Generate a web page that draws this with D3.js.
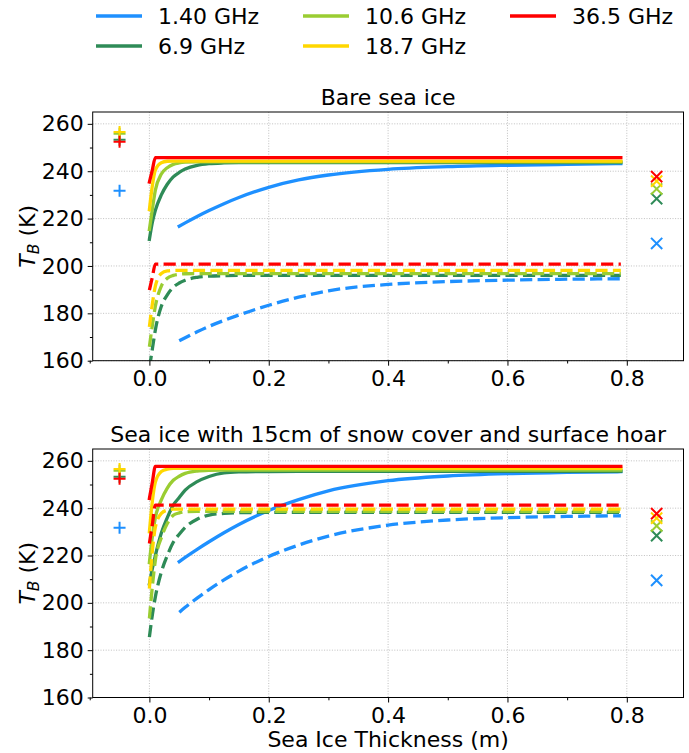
<!DOCTYPE html>
<meta charset="utf-8">
<head>
<style>
body { margin: 0; background: #fff; }
text { font-family: "DejaVu Sans", sans-serif; fill: #000; }
.grid line { stroke: #b0b0b0; stroke-width: 0.8px; stroke-dasharray: 1,1.6; }
.series path { fill: none; stroke-width: 3.3px; }
</style>
</head>
<body>
<svg></svg>
<script src="https://d3js.org/d3.v7.min.js"></script>
<script>
// frequencies, in plotting order
var freqs = ["1.40 GHz", "6.9 GHz", "10.6 GHz", "18.7 GHz", "36.5 GHz"];
var colors = ["#1e90ff", "#2e8b57", "#9acd32", "#ffd700", "#ff0000"];

// sea ice thickness (m)
var thick = [0, 0.005, 0.01, 0.02, 0.03, 0.04, 0.05, 0.06, 0.08, 0.1, 0.125, 0.15, 0.2, 0.25, 0.3, 0.4, 0.5, 0.6, 0.7, 0.79];

// bare sea ice, solid lines (K)
var bareSolid = [
  [null, null, null, null, null, null, 216.8, 218.2, 220.9, 223.4, 226.3, 228.9, 233.2, 236.3, 238.4, 240.8, 241.9, 242.5, 242.9, 243.2],
  [211.2, 218.5, 223.5, 230.0, 234.5, 237.6, 239.5, 240.9, 242.5, 243.2, 243.5, 243.6, 243.6, 243.6, 243.6, 243.6, 243.6, 243.6, 243.6, 243.6],
  [215.4, 224.0, 232.0, 238.8, 241.5, 242.9, 243.5, 243.8, 244.0, 244.0, 244.0, 244.0, 244.0, 244.0, 244.0, 244.0, 244.0, 244.0, 244.0, 244.0],
  [223.8, 234.0, 240.5, 243.6, 244.2, 244.3, 244.3, 244.3, 244.3, 244.3, 244.3, 244.3, 244.3, 244.3, 244.3, 244.3, 244.3, 244.3, 244.3, 244.3],
  [235.4, 240.6, 245.7, 245.7, 245.7, 245.7, 245.7, 245.7, 245.7, 245.7, 245.7, 245.7, 245.7, 245.7, 245.7, 245.7, 245.7, 245.7, 245.7, 245.7]
];
// bare sea ice, dashed lines (K)
var bareDashed = [
  [null, null, null, null, null, null, 168.4, 169.7, 172.2, 174.5, 177.0, 179.3, 183.4, 186.8, 189.5, 192.2, 193.4, 194.0, 194.4, 194.6],
  [157.0, 165.0, 173.0, 183.0, 187.8, 191.0, 192.8, 194.0, 195.2, 195.7, 195.9, 196.0, 196.0, 196.0, 196.0, 196.0, 196.0, 196.0, 196.0, 196.0],
  [165.9, 175.0, 183.0, 191.5, 194.8, 196.0, 196.5, 196.7, 196.8, 196.8, 196.8, 196.8, 196.8, 196.8, 196.8, 196.8, 196.8, 196.8, 196.8, 196.8],
  [174.3, 184.0, 191.5, 196.8, 197.9, 198.1, 198.1, 198.1, 198.1, 198.1, 198.1, 198.1, 198.1, 198.1, 198.1, 198.1, 198.1, 198.1, 198.1, 198.1],
  [189.8, 195.3, 200.8, 200.8, 200.8, 200.8, 200.8, 200.8, 200.8, 200.8, 200.8, 200.8, 200.8, 200.8, 200.8, 200.8, 200.8, 200.8, 200.8, 200.8]
];

// sea ice with snow and hoar, solid lines (K)
var snowSolid = [
  [null, null, null, null, null, null, 217.4, 219.2, 222.6, 225.8, 229.6, 233.1, 239.0, 243.6, 247.3, 251.6, 253.6, 254.6, 255.1, 255.4],
  [208.0, 214.5, 220.0, 229.5, 236.0, 241.3, 244.5, 247.6, 251.2, 253.4, 254.9, 255.3, 255.5, 255.6, 255.6, 255.6, 255.6, 255.6, 255.6, 255.6],
  [217.0, 228.0, 236.0, 243.5, 248.5, 251.8, 253.5, 254.7, 255.7, 256.0, 256.1, 256.1, 256.1, 256.1, 256.1, 256.1, 256.1, 256.1, 256.1, 256.1],
  [230.0, 243.0, 251.0, 255.5, 256.5, 256.8, 256.8, 256.8, 256.8, 256.8, 256.8, 256.8, 256.8, 256.8, 256.8, 256.8, 256.8, 256.8, 256.8, 256.8],
  [244.1, 251.0, 257.7, 257.7, 257.7, 257.7, 257.7, 257.7, 257.7, 257.7, 257.7, 257.7, 257.7, 257.7, 257.7, 257.7, 257.7, 257.7, 257.7, 257.7]
];
// sea ice with snow and hoar, dashed lines (K)
var snowDashed = [
  [null, null, null, null, null, null, 196.0, 198.1, 202.0, 205.6, 209.7, 213.4, 219.6, 224.4, 228.2, 232.8, 235.0, 236.0, 236.5, 236.8],
  [185.5, 195.0, 202.5, 213.0, 220.0, 225.6, 229.0, 231.9, 235.3, 237.1, 237.8, 238.1, 238.2, 238.2, 238.2, 238.2, 238.2, 238.2, 238.2, 238.2],
  [193.4, 207.0, 218.0, 227.5, 233.5, 237.0, 238.0, 238.5, 238.7, 238.7, 238.7, 238.7, 238.7, 238.7, 238.7, 238.7, 238.7, 238.7, 238.7, 238.7],
  [206.0, 222.0, 232.0, 237.8, 239.2, 239.6, 239.6, 239.6, 239.6, 239.6, 239.6, 239.6, 239.6, 239.6, 239.6, 239.6, 239.6, 239.6, 239.6, 239.6],
  [225.1, 233.2, 241.3, 241.3, 241.3, 241.3, 241.3, 241.3, 241.3, 241.3, 241.3, 241.3, 241.3, 241.3, 241.3, 241.3, 241.3, 241.3, 241.3, 241.3]
];

// single point values ("+" at -0.05 m, "x" at 0.85 m)
var plusX = -0.05, crossX = 0.85;
var plusVals = [231.7, 253.3, 255.8, 256.6, 252.4];
var crossVals = [209.5, 228.4, 232.5, 235.8, 237.7];

var xTicks = [0.0, 0.2, 0.4, 0.6, 0.8];
var yTicks = [160, 180, 200, 220, 240, 260];

var W = 689, H = 753, fs = '22px';
var svg = d3.select('svg').attr('width', W).attr('height', H);

var left = 92.7, right = 683.5;
var x = d3.scaleLinear().domain([-0.095, 0.895]).range([left, right]);

var panels = [
  { title: "Bare sea ice", top: 112, bottom: 360.7, solid: bareSolid, dashed: bareDashed },
  { title: "Sea ice with 15cm of snow cover and surface hoar", top: 449, bottom: 697.5, solid: snowSolid, dashed: snowDashed }
];

panels.forEach(function (p, pi) {
  var y = d3.scaleLinear().domain([160, 265]).range([p.bottom, p.top]);
  var g = svg.append('g');

  g.append('clipPath').attr('id', 'clip' + pi)
    .append('rect').attr('x', left).attr('y', p.top)
    .attr('width', right - left).attr('height', p.bottom - p.top);

  // grid
  var grid = g.append('g').attr('class', 'grid');
  grid.selectAll('.gx').data(xTicks).enter().append('line')
    .attr('x1', function (d) { return x(d); }).attr('x2', function (d) { return x(d); })
    .attr('y1', p.top).attr('y2', p.bottom);
  grid.selectAll('.gy').data(yTicks).enter().append('line')
    .attr('x1', left).attr('x2', right)
    .attr('y1', function (d) { return y(d); }).attr('y2', function (d) { return y(d); });

  // axes
  var xAxis = d3.axisBottom(x).tickValues(xTicks).tickFormat(d3.format('.1f')).tickSize(5).tickPadding(5);
  var yAxis = d3.axisLeft(y).tickValues(yTicks).tickSize(5).tickPadding(4);
  var xMinor = d3.axisBottom(x).tickValues([-0.1, 0.1, 0.3, 0.5, 0.7]).tickFormat('').tickSize(2.8);
  var yMinor = d3.axisLeft(y).tickValues([170, 190, 210, 230, 250]).tickFormat('').tickSize(2.8);

  [ [xAxis, 'translate(0,' + p.bottom + ')'], [xMinor, 'translate(0,' + p.bottom + ')'],
    [yAxis, 'translate(' + left + ',0)'], [yMinor, 'translate(' + left + ',0)'] ].forEach(function (a) {
    var ag = g.append('g').attr('transform', a[1]).call(a[0]);
    ag.select('.domain').remove();
    ag.selectAll('line').attr('stroke', '#000').attr('stroke-width', 1);
    ag.selectAll('text').style('font-size', fs).style('font-family', '"DejaVu Sans", sans-serif');
  });

  // lines
  var line = d3.line()
    .defined(function (d) { return d[1] != null; })
    .x(function (d) { return x(d[0]); })
    .y(function (d) { return y(d[1]); })
    .curve(d3.curveMonotoneX);

  var series = g.append('g').attr('class', 'series').attr('clip-path', 'url(#clip' + pi + ')');
  freqs.forEach(function (f, i) {
    series.append('path')
      .attr('d', line(thick.map(function (t, k) { return [t, p.solid[i][k]]; })))
      .attr('stroke', colors[i]).attr('stroke-linecap', 'square');
  });
  freqs.forEach(function (f, i) {
    series.append('path')
      .attr('d', line(thick.map(function (t, k) { return [t, p.dashed[i][k]]; })))
      .attr('stroke', colors[i]).attr('stroke-dasharray', '12.2,5.3');
  });

  // markers
  var m = 6;
  freqs.forEach(function (f, i) {
    var px = x(plusX), py = y(plusVals[i]);
    g.append('path')
      .attr('d', 'M' + (px - m) + ',' + py + 'H' + (px + m) + 'M' + px + ',' + (py - m) + 'V' + (py + m))
      .attr('stroke', colors[i]).attr('stroke-width', 2).attr('fill', 'none');
  });
  freqs.forEach(function (f, i) {
    var cx = x(crossX), cy = y(crossVals[i]), k = 5.6;
    g.append('path')
      .attr('d', 'M' + (cx - k) + ',' + (cy - k) + 'L' + (cx + k) + ',' + (cy + k) +
                 'M' + (cx - k) + ',' + (cy + k) + 'L' + (cx + k) + ',' + (cy - k))
      .attr('stroke', colors[i]).attr('stroke-width', 2).attr('fill', 'none');
  });

  // frame
  g.append('rect').attr('x', left).attr('y', p.top)
    .attr('width', right - left).attr('height', p.bottom - p.top)
    .attr('fill', 'none').attr('stroke', '#000').attr('stroke-width', 1);

  // title
  g.append('text').attr('x', (left + right) / 2).attr('y', p.top - 7)
    .attr('text-anchor', 'middle').style('font-size', fs).text(p.title);

  // y label
  var yl = g.append('text')
    .attr('transform', 'translate(35,' + ((p.top + p.bottom) / 2) + ') rotate(-90)')
    .attr('text-anchor', 'middle').style('font-size', fs);
  yl.append('tspan').style('font-style', 'italic').text('T');
  yl.append('tspan').style('font-style', 'italic').style('font-size', '15.5px').attr('dy', 4).text('B');
  yl.append('tspan').attr('dy', -4).text(' (K)');
});

// x label
svg.append('text').attr('x', (left + right) / 2).attr('y', 747)
  .attr('text-anchor', 'middle').style('font-size', fs).text('Sea Ice Thickness (m)');

// legend (3 columns, filled column by column)
var legCols = [96, 303, 510], legRows = [16, 46];
freqs.forEach(function (f, i) {
  var cx = legCols[Math.floor(i / 2)], cy = legRows[i % 2];
  svg.append('line').attr('x1', cx).attr('x2', cx + 46).attr('y1', cy).attr('y2', cy)
    .attr('stroke', colors[i]).attr('stroke-width', 3.3);
  svg.append('text').attr('x', cx + 62).attr('y', cy + 8)
    .style('font-size', fs).text(f);
});
</script>
</body>
</html>
